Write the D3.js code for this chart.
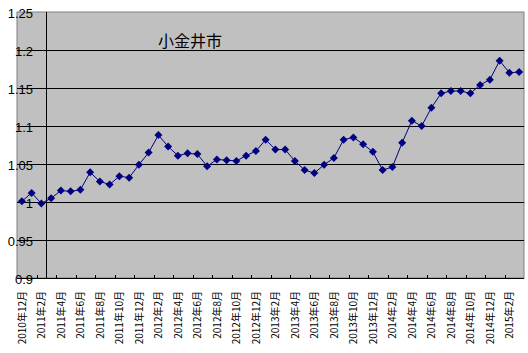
<!DOCTYPE html>
<html lang="ja">
<head>
<meta charset="UTF-8">
<title>小金井市</title>
<script src="https://d3js.org/d3.v7.min.js"></script>
<style>
  body { margin: 0; background: #fff; }
  svg { display: block; }
  .ylab { font-family: "Liberation Sans", Arial, sans-serif; font-size: 13px; }
  .xlab { font-family: "Noto Sans CJK JP", sans-serif; font-size: 10px; }
  .title { font-family: "Noto Sans CJK JP", sans-serif; font-size: 16px; }
</style>
</head>
<body>
<svg width="528" height="353"></svg>
<script>
// months, Dec 2010 .. Mar 2015
const months = [
  "2010年12月", "2011年1月", "2011年2月", "2011年3月", "2011年4月", "2011年5月",
  "2011年6月", "2011年7月", "2011年8月", "2011年9月", "2011年10月", "2011年11月",
  "2011年12月", "2012年1月", "2012年2月", "2012年3月", "2012年4月", "2012年5月",
  "2012年6月", "2012年7月", "2012年8月", "2012年9月", "2012年10月", "2012年11月",
  "2012年12月", "2013年1月", "2013年2月", "2013年3月", "2013年4月", "2013年5月",
  "2013年6月", "2013年7月", "2013年8月", "2013年9月", "2013年10月", "2013年11月",
  "2013年12月", "2014年1月", "2014年2月", "2014年3月", "2014年4月", "2014年5月",
  "2014年6月", "2014年7月", "2014年8月", "2014年9月", "2014年10月", "2014年11月",
  "2014年12月", "2015年1月", "2015年2月", "2015年3月"
];
const values = [
  1.001, 1.012, 0.998, 1.005, 1.015, 1.014, 1.016, 1.039, 1.027, 1.023, 1.034, 1.032,
  1.049, 1.065, 1.088, 1.073, 1.061, 1.064, 1.063, 1.047, 1.056, 1.055, 1.054, 1.061,
  1.067, 1.082, 1.069, 1.069, 1.054, 1.042, 1.038, 1.049, 1.058, 1.082, 1.085, 1.076,
  1.066, 1.042, 1.046, 1.078, 1.107, 1.100, 1.124, 1.143, 1.146, 1.146, 1.143, 1.154,
  1.161, 1.186, 1.170, 1.171
];
const yTicks = [0.9, 0.95, 1, 1.05, 1.1, 1.15, 1.2, 1.25];
const title = "小金井市";

const plot = { left: 17, right: 524, top: 12, bottom: 278 };
const svg = d3.select("svg");

const x = d3.scaleBand().domain(months).range([plot.left, plot.right]);
const y = d3.scaleLinear().domain([0.9, 1.25]).range([plot.bottom, plot.top]);
const cx = d => x(d) + x.bandwidth() / 2;

// plot area
svg.append("rect")
  .attr("x", plot.left).attr("y", plot.top)
  .attr("width", plot.right - plot.left).attr("height", plot.bottom - plot.top)
  .attr("fill", "#c0c0c0").attr("stroke", "#808080").attr("stroke-width", 1);

// gridlines
svg.append("g").selectAll("line")
  .data(yTicks.filter(t => t > 0.9 && t < 1.25))
  .join("line")
  .attr("x1", plot.left).attr("x2", plot.right)
  .attr("y1", d => Math.round(y(d)) + 0.5).attr("y2", d => Math.round(y(d)) + 0.5)
  .attr("stroke", "#000").attr("stroke-width", 1);

// vertical axis line (crosses between categories)
const vx = Math.round(x(months[3])) + 0.5;
svg.append("line")
  .attr("x1", vx).attr("x2", vx)
  .attr("y1", plot.top).attr("y2", plot.bottom)
  .attr("stroke", "#000");

// category axis
svg.append("line")
  .attr("x1", plot.left).attr("x2", plot.right)
  .attr("y1", plot.bottom + 0.5).attr("y2", plot.bottom + 0.5)
  .attr("stroke", "#000");
svg.append("g").selectAll("line")
  .data(months.filter((d, i) => i % 2 === 0 && i > 0))
  .join("line")
  .attr("x1", d => Math.round(x(d)) + 0.5).attr("x2", d => Math.round(x(d)) + 0.5)
  .attr("y1", plot.bottom - 3).attr("y2", plot.bottom)
  .attr("stroke", "#000");

svg.append("g").selectAll("text")
  .data(months.filter((d, i) => i % 2 === 0))
  .join("text")
  .attr("class", "xlab")
  .attr("transform", d => `translate(${cx(d) + 4},${plot.bottom + 13}) rotate(-90)`)
  .attr("text-anchor", "end")
  .text(d => d);

// value labels
svg.append("g").selectAll("text")
  .data(yTicks)
  .join("text")
  .attr("class", "ylab")
  .attr("x", 33)
  .attr("y", d => y(d) + 1)
  .attr("dominant-baseline", "central")
  .attr("text-anchor", "end")
  .text(d => d);

// series
const pts = months.map((m, i) => ({ m, v: values[i] }));
svg.append("path")
  .datum(pts)
  .attr("fill", "none")
  .attr("stroke", "#000080")
  .attr("stroke-width", 1)
  .attr("d", d3.line().x(d => cx(d.m)).y(d => y(d.v)));

svg.append("g").selectAll("path")
  .data(pts)
  .join("path")
  .attr("transform", d => `translate(${cx(d.m)},${y(d.v)})`)
  .attr("d", "M0,-4L4,0L0,4L-4,0Z")
  .attr("fill", "#000080");

svg.append("text")
  .attr("class", "title")
  .attr("x", 158).attr("y", 40)
  .attr("dominant-baseline", "central")
  .text(title);
</script>
</body>
</html>
